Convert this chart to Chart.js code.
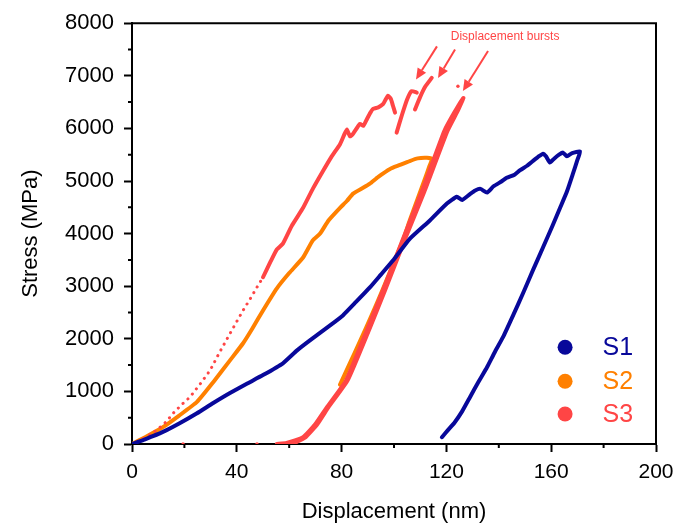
<!DOCTYPE html>
<html>
<head>
<meta charset="utf-8">
<script src="https://cdn.jsdelivr.net/npm/chart.js@4"></script>
<style>
  html, body { margin: 0; padding: 0; background: #fff; }
  #wrap { width: 691px; height: 525px; }
</style>
</head>
<body>
<div id="wrap"><canvas id="stressChart" width="691" height="525"></canvas></div>
<script>
// Axis ticks
const xTicks = [0, 40, 80, 120, 160, 200];
const yTicks = [0, 1000, 2000, 3000, 4000, 5000, 6000, 7000, 8000];

// S1 - loading then unloading
const s1X = [0, 5, 11.8, 18, 24.8, 31, 37.4, 44, 50, 57.6, 63, 67.9, 75.6, 80.5, 85.5, 90.8, 95, 99.6, 106, 113.7,
  120.2, 124, 126, 129, 131, 133, 135.5, 138, 141, 143, 146, 148, 150.8, 153, 155, 156.9, 158, 159.5, 161, 163, 164.5, 166, 168, 171,
  170, 168.3, 166, 163.4, 160.5, 156.9, 153, 149.2, 145.5, 141.6, 138.5, 135.5, 132, 129, 126, 123, 120.5, 118.3];
const s1Y = [0, 90, 230, 390, 585, 780, 970, 1150, 1310, 1535, 1780, 1970, 2255, 2445, 2700, 2976, 3220, 3488, 3900, 4250,
  4570, 4700, 4640, 4750, 4820, 4850, 4780, 4900, 4990, 5060, 5120, 5200, 5290, 5380, 5460, 5520, 5470, 5350, 5420, 5500, 5540, 5470, 5530, 5560,
  5400, 5140, 4800, 4490, 4150, 3740, 3300, 2860, 2450, 2030, 1750, 1460, 1160, 890, 620, 400, 260, 130];

// S2 - loading then unloading
const s2X = [0, 5, 11.8, 18, 24.8, 31, 37.4, 42.4, 46, 50, 55.3, 60, 65.3, 69, 71.8, 75, 79.4, 82, 84.4, 88.2, 90.8, 94, 98.5, 102, 106, 109, 112.6, 114.5,
  113.5, 112, 109, 106, 103.4, 99.5, 95.8, 91.5, 87, 83, 79.4];
const s2Y = [0, 130, 320, 540, 800, 1175, 1590, 1915, 2200, 2540, 2960, 3250, 3545, 3870, 4000, 4250, 4490, 4620, 4760, 4870, 4950, 5080, 5230, 5300, 5380, 5430, 5440, 5420,
  5280, 5070, 4660, 4250, 3870, 3400, 2950, 2450, 1950, 1520, 1130];

// S3 - sparse (dotted) start of loading
const s3DotX = [0, 3, 6, 9.5, 13, 16, 19, 22.1, 26, 29.8, 33.5, 37.4, 40, 42.4, 45, 47.7, 50];
const s3DotY = [0, 60, 150, 265, 420, 600, 750, 890, 1140, 1400, 1750, 2100, 2330, 2540, 2750, 2980, 3170];

// S3 - rest of loading, bursts (null = gap)
const s3X = [50, 53, 55.3, 57.6, 61, 65.3, 69, 72.9, 76, 79.4, 81, 82, 83.2, 84.4, 87, 88.3, 89.7, 91, 92, 94, 95.8, 96.8, 97.7, 98.8, 99.6, 100.4,
  100.7, 101, 103, 105, 106.7, 108.7,
  108.4, 108, 110, 112, 114.4];
const s3Y = [3170, 3480, 3700, 3810, 4150, 4490, 4850, 5190, 5450, 5700, 5880, 5980, 5850, 5900, 6085, 6050, 6180, 6300, 6370, 6400, 6460, 6550, 6620, 6560, 6430, 6300,
  null, 5920, 6250, 6550, 6710, 6680,
  null, 6360, 6600, 6800, 6960];

// S3 - unload/reload loop near 60-126 nm
const s3LoopX = [55.3, 59, 65.3, 70, 74.4, 81.7, 89.6, 95.6, 103.2, 110.6, 119.2, 123, 126.5,
  124.5, 120.4, 111.6, 104, 96.4, 90.4, 82.3, 75, 70.8, 66.3, 62, 58];
const s3LoopY = [0, 20, 130, 380, 700, 1210, 2160, 2900, 3870, 4800, 5950, 6300, 6580,
  6350, 5950, 4800, 3870, 2900, 2160, 1210, 700, 380, 130, 20, 0];

// stray S3 points (top and on the baseline)
const s3StrayX = [124.4, 19.5, 47.7];
const s3StrayY = [6800, 0, 0];

const seriesNames = ['S1', 'S2', 'S3'];
const seriesColors = ['#08089a', '#ff8000', '#ff4545'];

const burstLabel = 'Displacement bursts';
// arrows: [fromX, fromY, toX, toY] in data units
const burstArrows = [
  [116.4, 7560, 108.4, 6930],
  [123.3, 7500, 116.8, 6960],
  [135.9, 7470, 126.3, 6710]
];

function toPoints(xs, ys) {
  return xs.map((x, i) => ({ x: x, y: ys[i] }));
}

const FONT = 'Arial, "Liberation Sans", Helvetica, sans-serif';

// minor ticks, top/right frame, annotation and legend
const extrasPlugin = {
  id: 'extras',
  afterDraw(chart) {
    const ctx = chart.ctx;
    const xs = chart.scales.x;
    const ys = chart.scales.y;
    const area = chart.chartArea;
    ctx.save();
    ctx.strokeStyle = '#000';
    ctx.lineWidth = 2;
    // frame top + right
    ctx.beginPath();
    ctx.moveTo(area.left - 1, area.top);
    ctx.lineTo(area.right, area.top);
    ctx.lineTo(area.right, area.bottom + 1);
    ctx.stroke();
    // minor ticks
    ctx.beginPath();
    for (let v = 20; v < 200; v += 40) {
      const px = xs.getPixelForValue(v);
      ctx.moveTo(px, area.bottom);
      ctx.lineTo(px, area.bottom + 4);
    }
    for (let v = 500; v < 8000; v += 1000) {
      const py = ys.getPixelForValue(v);
      ctx.moveTo(area.left, py);
      ctx.lineTo(area.left - 4, py);
    }
    ctx.stroke();

    // burst annotation
    const red = seriesColors[2];
    ctx.fillStyle = red;
    ctx.strokeStyle = red;
    ctx.font = '12px ' + FONT;
    ctx.textAlign = 'center';
    ctx.textBaseline = 'middle';
    ctx.fillText(burstLabel, xs.getPixelForValue(142.4), ys.getPixelForValue(7735));
    ctx.lineWidth = 2;
    burstArrows.forEach(a => {
      const x0 = xs.getPixelForValue(a[0]), y0 = ys.getPixelForValue(a[1]);
      const x1 = xs.getPixelForValue(a[2]), y1 = ys.getPixelForValue(a[3]);
      const ang = Math.atan2(y1 - y0, x1 - x0);
      const head = 11, half = 5;
      const bx = x1 - head * Math.cos(ang), by = y1 - head * Math.sin(ang);
      ctx.beginPath();
      ctx.moveTo(x0, y0);
      ctx.lineTo(bx, by);
      ctx.stroke();
      ctx.beginPath();
      ctx.moveTo(x1, y1);
      ctx.lineTo(bx + half * Math.sin(ang), by - half * Math.cos(ang));
      ctx.lineTo(bx - half * Math.sin(ang), by + half * Math.cos(ang));
      ctx.closePath();
      ctx.fill();
    });

    // legend
    const legendY = [1839, 1194, 569];
    ctx.font = '25px ' + FONT;
    ctx.textAlign = 'left';
    seriesNames.forEach((name, i) => {
      const py = ys.getPixelForValue(legendY[i]);
      ctx.fillStyle = seriesColors[i];
      ctx.beginPath();
      ctx.arc(xs.getPixelForValue(165.3), py, 7.5, 0, Math.PI * 2);
      ctx.fill();
      ctx.fillText(name, xs.getPixelForValue(179.6), py + 1);
    });
    ctx.restore();
  }
};

const ctx = document.getElementById('stressChart').getContext('2d');

const lineStyle = (color, order) => ({
  showLine: true,
  spanGaps: false,
  borderColor: color,
  borderWidth: 4,
  borderJoinStyle: 'round',
  borderCapStyle: 'round',
  pointRadius: 0,
  tension: 0.15,
  order: order
});

new Chart(ctx, {
  type: 'scatter',
  data: {
    datasets: [
      Object.assign({ label: seriesNames[0], data: toPoints(s1X, s1Y) }, lineStyle(seriesColors[0], 0)),
      Object.assign({ label: seriesNames[2], data: toPoints(s3X, s3Y) }, lineStyle(seriesColors[2], 1)),
      Object.assign({ label: 'S3 loop', data: toPoints(s3LoopX, s3LoopY) }, lineStyle(seriesColors[2], 1)),
      {
        label: 'S3 start',
        data: toPoints(s3DotX, s3DotY),
        showLine: true,
        borderColor: seriesColors[2],
        borderWidth: 3,
        borderDash: [0.1, 6.5],
        borderCapStyle: 'round',
        pointRadius: 0,
        order: 1
      },
      {
        label: 'S3 stray',
        data: toPoints(s3StrayX, s3StrayY),
        showLine: false,
        backgroundColor: seriesColors[2],
        borderWidth: 0,
        pointRadius: 1.7,
        order: 1
      },
      Object.assign({ label: seriesNames[1], data: toPoints(s2X, s2Y) }, lineStyle(seriesColors[1], 2))
    ]
  },
  options: {
    responsive: false,
    animation: false,
    layout: { padding: { top: 22, right: 35, left: 0, bottom: 0 } },
    plugins: {
      legend: { display: false },
      tooltip: { enabled: false }
    },
    scales: {
      x: {
        type: 'linear',
        min: 0,
        max: 200,
        afterBuildTicks: scale => { scale.ticks = xTicks.map(v => ({ value: v })); },
        afterFit: scale => { scale.height = 81; },
        border: { color: '#000', width: 2 },
        grid: { drawOnChartArea: false, drawTicks: true, tickLength: 8, tickColor: '#000', tickWidth: 2 },
        ticks: { color: '#000', font: { family: FONT, size: 21 }, padding: 8, maxRotation: 0, callback: v => String(v) },
        title: { display: true, text: 'Displacement (nm)', color: '#000', font: { family: FONT, size: 22 }, padding: 0 }
      },
      y: {
        type: 'linear',
        min: 0,
        max: 8000,
        afterBuildTicks: scale => { scale.ticks = yTicks.map(v => ({ value: v })); },
        afterFit: scale => { scale.width = 132; },
        border: { color: '#000', width: 2 },
        grid: { drawOnChartArea: false, drawTicks: true, tickLength: 8, tickColor: '#000', tickWidth: 2 },
        ticks: { color: '#000', font: { family: FONT, size: 22 }, padding: 10, callback: v => String(v) },
        title: { display: true, text: 'Stress (MPa)', color: '#000', font: { family: FONT, size: 22 }, padding: { top: 18, bottom: 0 } }
      }
    }
  },
  plugins: [extrasPlugin]
});
</script>
</body>
</html>
